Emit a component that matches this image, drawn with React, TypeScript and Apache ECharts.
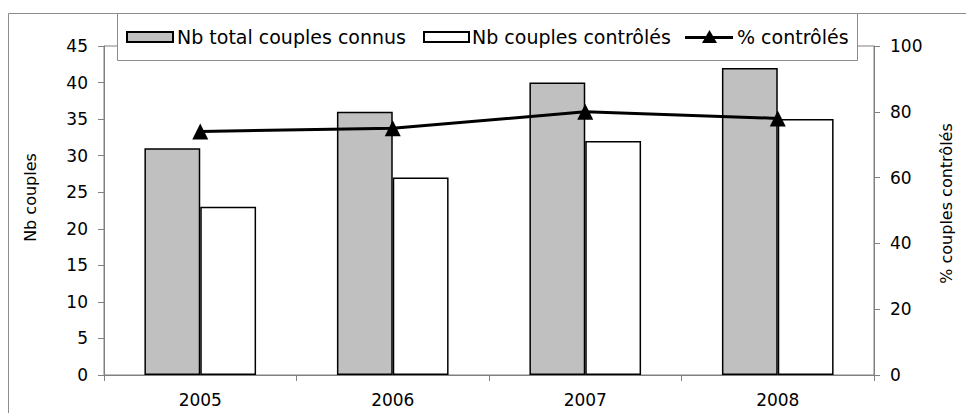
import React, { useEffect, useRef } from "react";
import * as echarts from "echarts";

const years = ["2005", "2006", "2007", "2008"];
const totalCouples = [31, 36, 40, 42];
const controlledCouples = [23, 27, 32, 35];
const pctControlled = [74, 75, 80, 78];
const leftTicks = { min: 0, max: 45, interval: 5 };
const rightTicks = { min: 0, max: 100, interval: 20 };
const seriesNames = ["Nb total couples connus", "Nb couples contrôlés", "% contrôlés"];

const FONT = "DejaVu Sans";
const AXIS_GRAY = "#808080";
const BAR_GRAY = "#c0c0c0";

export default function App() {
  const ref = useRef<HTMLDivElement>(null);
  useEffect(() => {
    if (!ref.current) return;
    const chart = echarts.init(ref.current, null, { renderer: "svg" });
    const legendText = { fontFamily: FONT, fontSize: 19, fill: "#000", verticalAlign: "middle" };
    chart.setOption({
      animation: false,
      backgroundColor: "#ffffff",
      textStyle: { fontFamily: FONT, color: "#000" },
      graphic: [
        {
          type: "rect",
          z: -10,
          shape: { x: 8.5, y: 13.5, width: 1000, height: 500 },
          style: { fill: "none", stroke: "#8c8c8c", lineWidth: 1 },
        },
        {
          type: "group",
          z: 100,
          children: [
            {
              type: "rect",
              shape: { x: 117.5, y: 13.5, width: 740, height: 47 },
              style: { fill: "#fff", stroke: "#8c8c8c", lineWidth: 1 },
            },
            {
              type: "rect",
              shape: { x: 127, y: 32, width: 46, height: 10 },
              style: { fill: BAR_GRAY, stroke: "#000", lineWidth: 2 },
            },
            {
              type: "text",
              x: 177,
              y: 37,
              style: { ...legendText, text: seriesNames[0] },
            },
            {
              type: "rect",
              shape: { x: 424, y: 32, width: 45, height: 10 },
              style: { fill: "#fff", stroke: "#000", lineWidth: 2 },
            },
            {
              type: "text",
              x: 472,
              y: 37,
              style: { ...legendText, text: seriesNames[1] },
            },
            {
              type: "line",
              shape: { x1: 685, y1: 37.5, x2: 733, y2: 37.5 },
              style: { stroke: "#000", lineWidth: 3 },
            },
            {
              type: "polygon",
              shape: { points: [[709.5, 30], [717, 43], [702, 43]] },
              style: { fill: "#000" },
            },
            {
              type: "text",
              x: 737,
              y: 37,
              style: { ...legendText, text: seriesNames[2] },
            },
          ],
        },
      ],
      grid: {
        left: 104,
        right: 92,
        top: 46,
        bottom: 38,
        show: true,
        borderColor: AXIS_GRAY,
        borderWidth: 1,
        backgroundColor: "transparent",
      },
      xAxis: {
        type: "category",
        data: years,
        axisLine: { lineStyle: { color: AXIS_GRAY, width: 1 } },
        axisTick: { show: true, length: 6, lineStyle: { color: AXIS_GRAY } },
        axisLabel: { fontFamily: FONT, fontSize: 17, color: "#000", margin: 16 },
      },
      yAxis: [
        {
          type: "value",
          min: leftTicks.min,
          max: leftTicks.max,
          interval: leftTicks.interval,
          name: "Nb couples",
          nameLocation: "middle",
          nameGap: 66,
          nameRotate: 90,
          nameTextStyle: { fontFamily: FONT, fontSize: 16, color: "#000", padding: [0, 0, 0, 26] },
          axisLine: { show: true, lineStyle: { color: AXIS_GRAY, width: 1 } },
          axisTick: { show: true, length: 6, lineStyle: { color: AXIS_GRAY } },
          axisLabel: { fontFamily: FONT, fontSize: 17, color: "#000", margin: 16 },
          splitLine: { show: false },
        },
        {
          type: "value",
          min: rightTicks.min,
          max: rightTicks.max,
          interval: rightTicks.interval,
          position: "right",
          name: "% couples contrôlés",
          nameLocation: "middle",
          nameGap: 64,
          nameRotate: 90,
          nameTextStyle: { fontFamily: FONT, fontSize: 16, color: "#000", padding: [0, 0, 0, 14] },
          axisLine: { show: true, lineStyle: { color: AXIS_GRAY, width: 1 } },
          axisTick: { show: true, length: 6, lineStyle: { color: AXIS_GRAY } },
          axisLabel: { fontFamily: FONT, fontSize: 17, color: "#000", margin: 16 },
          splitLine: { show: false },
        },
      ],
      series: [
        {
          name: seriesNames[0],
          type: "bar",
          yAxisIndex: 0,
          data: totalCouples,
          barGap: "0%",
          barCategoryGap: "42%",
          itemStyle: { color: BAR_GRAY, borderColor: "#000", borderWidth: 1.5 },
        },
        {
          name: seriesNames[1],
          type: "bar",
          yAxisIndex: 0,
          data: controlledCouples,
          barGap: "0%",
          barCategoryGap: "42%",
          itemStyle: { color: "#ffffff", borderColor: "#000", borderWidth: 1.5 },
        },
        {
          name: seriesNames[2],
          type: "line",
          yAxisIndex: 1,
          data: pctControlled,
          symbol: "triangle",
          symbolSize: 16,
          lineStyle: { color: "#000", width: 3 },
          itemStyle: { color: "#000" },
          z: 5,
        },
      ],
    });
    return () => chart.dispose();
  }, []);
  return (
    <div
      ref={ref}
      style={{ position: "absolute", left: 0, top: 0, width: 966, height: 413, background: "#fff" }}
    />
  );
}
